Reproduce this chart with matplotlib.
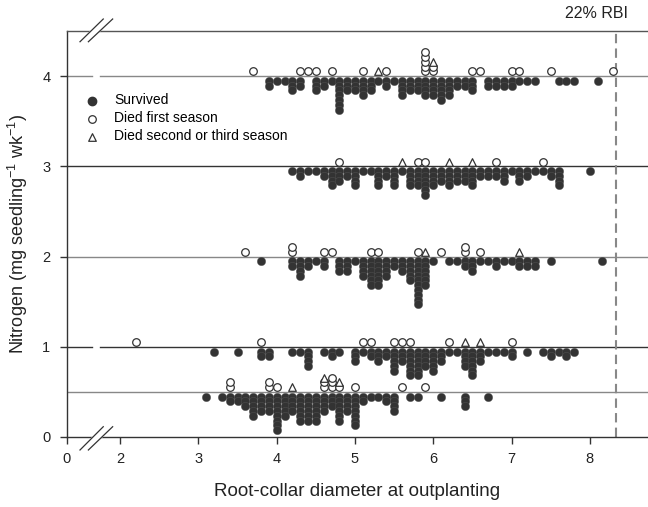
import numpy as np
import matplotlib.pyplot as plt

plt.rcParams['font.family'] = ['Liberation Sans', 'DejaVu Sans']
plt.rcParams['mathtext.fontset'] = 'custom'
plt.rcParams['mathtext.rm'] = 'Liberation Sans'
plt.rcParams['mathtext.default'] = 'regular'

levels = [0.5, 1, 2, 3, 4]

# survived seedlings: diameter bin and number of seedlings in it
surv05_d = [3.1, 3.3, 3.4, 3.5, 3.6, 3.7, 3.8, 3.9, 4.0, 4.1, 4.2, 4.3, 4.4, 4.5, 4.6, 4.7,
            4.8, 4.9, 5.0, 5.1, 5.2, 5.3, 5.4, 5.5, 5.7, 5.8, 6.1, 6.4, 6.7]
surv05_n = [1, 1, 2, 2, 3, 5, 4, 4, 8, 5, 4, 6, 6, 6, 4, 3,
            6, 4, 7, 2, 1, 1, 2, 4, 1, 1, 1, 3, 1]

surv1_d = [3.2, 3.5, 3.8, 3.9, 4.2, 4.3, 4.4, 4.6, 4.7, 4.8, 5.0, 5.1, 5.2, 5.3, 5.4, 5.5,
           5.6, 5.7, 5.8, 5.9, 6.0, 6.1, 6.2, 6.3, 6.4, 6.5, 6.6, 6.7, 6.8, 6.9, 7.0, 7.2,
           7.4, 7.5, 7.6, 7.7, 7.8]
surv1_n = [1, 1, 2, 2, 1, 1, 4, 1, 2, 1, 3, 1, 2, 3, 2, 5,
           3, 6, 6, 4, 5, 3, 1, 1, 4, 6, 3, 1, 1, 1, 2, 1,
           1, 2, 1, 2, 1]

surv2_d = [3.8, 4.2, 4.3, 4.4, 4.5, 4.6, 4.8, 4.9, 5.0, 5.1, 5.2, 5.3, 5.4, 5.5, 5.6, 5.7,
           5.8, 5.9, 6.0, 6.2, 6.3, 6.4, 6.5, 6.6, 6.7, 6.8, 6.9, 7.0, 7.1, 7.2, 7.3, 7.5, 8.15]
surv2_n = [1, 2, 4, 2, 1, 2, 3, 3, 1, 4, 6, 6, 4, 2, 3, 5,
           10, 6, 1, 1, 1, 2, 3, 1, 1, 2, 1, 1, 2, 2, 2, 1, 1]

surv3_d = [4.2, 4.3, 4.4, 4.5, 4.6, 4.7, 4.8, 4.9, 5.0, 5.1, 5.2, 5.3, 5.4, 5.5, 5.6, 5.7,
           5.8, 5.9, 6.0, 6.1, 6.2, 6.3, 6.4, 6.5, 6.6, 6.7, 6.8, 6.9, 7.0, 7.1, 7.2, 7.3,
           7.4, 7.5, 7.6, 8.0]
surv3_n = [1, 2, 1, 1, 2, 4, 3, 2, 4, 1, 1, 4, 2, 4, 1, 4,
           4, 6, 4, 3, 4, 3, 3, 4, 2, 2, 2, 3, 1, 3, 2, 1,
           1, 2, 4, 1]

surv4_d = [3.9, 4.0, 4.1, 4.2, 4.3, 4.5, 4.6, 4.7, 4.8, 4.9, 5.0, 5.1, 5.2, 5.3, 5.4, 5.5,
           5.6, 5.7, 5.8, 5.9, 6.0, 6.1, 6.2, 6.3, 6.4, 6.5, 6.7, 6.8, 6.9, 7.0, 7.1, 7.2,
           7.3, 7.6, 7.7, 7.8, 8.1]
surv4_n = [2, 1, 1, 3, 2, 3, 2, 1, 7, 3, 3, 4, 3, 1, 2, 1,
           4, 3, 3, 4, 4, 5, 4, 2, 2, 3, 2, 2, 2, 2, 1, 1,
           1, 1, 1, 1, 1]

# died first season (one entry per seedling)
died1_05 = [3.4, 3.4, 3.9, 3.9, 4.0, 4.6, 4.6, 4.7, 4.7, 4.7, 4.8, 5.0, 5.6, 5.9]
died1_1 = [2.2, 3.8, 5.1, 5.2, 5.5, 5.6, 5.7, 6.2, 7.0]
died1_2 = [3.6, 4.2, 4.2, 4.6, 4.7, 5.2, 5.3, 5.8, 6.1, 6.4, 6.4, 6.6]
died1_3 = [4.8, 5.8, 5.9, 6.8, 7.4]
died1_4 = [3.7, 4.3, 4.4, 4.5, 4.7, 5.1, 5.4, 5.9, 5.9, 5.9, 5.9, 5.9, 6.0, 6.0,
           6.5, 6.6, 7.0, 7.1, 7.5, 8.3]

# died second or third season
died2_05 = [4.2, 4.6, 4.8]
died2_1 = [6.4, 6.6]
died2_2 = [5.9, 7.1]
died2_3 = [5.6, 6.2, 6.5]
died2_4 = [5.3, 6.0]

rbi = 8.33

surv_d = [surv05_d, surv1_d, surv2_d, surv3_d, surv4_d]
surv_n = [surv05_n, surv1_n, surv2_n, surv3_n, surv4_n]
died1 = [died1_05, died1_1, died1_2, died1_3, died1_4]
died2 = [died2_05, died2_1, died2_2, died2_3, died2_4]

dark = '#333333'
dy = 0.053

fig = plt.figure(figsize=(6.48, 5.07), dpi=100)
ax = fig.add_axes([67/648, 70/507, 581/648, 406/507])
x0, x1 = 1.322, 8.742
ax.set_xlim(x0, x1)
ax.set_ylim(0, 4.5)

for i, lev in enumerate(levels):
    # reference line, broken at the axis break for some levels
    lc = '#888888' if lev in (0.5, 2, 4) else '#333333'
    if lev in (1, 4):
        ax.plot([x0, 1.641], [lev, lev], color=lc, lw=1, zorder=1)
        ax.plot([1.743, x1], [lev, lev], color=lc, lw=1, zorder=1)
    else:
        ax.plot([x0, x1], [lev, lev], color=lc, lw=1, zorder=1)

    xs, ys = [], []
    for d, n in zip(surv_d[i], surv_n[i]):
        for k in range(n):
            xs.append(d)
            ys.append(lev - (k + 1) * dy)
    ax.scatter(xs, ys, s=36, color=dark, edgecolors='#555555', linewidths=0.3, zorder=3)

    heights = {}
    cx, cy = [], []
    for d in died1[i]:
        heights[d] = heights.get(d, 0) + 1
        cx.append(d)
        cy.append(lev + heights[d] * dy)
    ax.scatter(cx, cy, s=30, facecolors='white', edgecolors=dark, linewidths=0.9, zorder=4)
    tx, ty = [], []
    for d in died2[i]:
        heights[d] = heights.get(d, 0) + 1
        tx.append(d)
        ty.append(lev + heights[d] * dy)
    ax.scatter(tx, ty, s=30, marker='^', facecolors='white', edgecolors=dark,
               linewidths=0.9, zorder=4)

# 22% RBI line
ax.plot([rbi, rbi], [0, 4.5], color='#888888', lw=1.5, dashes=(4.5, 2.5), zorder=2)
ax.text(8.09, 4.69, '22% RBI', ha='center', va='center', fontsize=11.5, color='#222222')

# legend
h1 = ax.scatter([], [], s=36, color=dark)
h2 = ax.scatter([], [], s=30, facecolors='white', edgecolors=dark, linewidths=0.9)
h3 = ax.scatter([], [], s=30, marker='^', facecolors='white', edgecolors=dark, linewidths=0.9)
ax.legend([h1, h2, h3], ['Survived', 'Died first season', 'Died second or third season'],
          loc='upper left', bbox_to_anchor=(0.01, 0.86), frameon=False, fontsize=10,
          handletextpad=0.6, labelspacing=0.28, borderaxespad=0)

# spines and ticks
ax.spines['right'].set_visible(False)
for s in ['left', 'bottom', 'top']:
    ax.spines[s].set_color('#333333')
    ax.spines[s].set_linewidth(1)
ax.spines['top'].set_color('#555555')

ax.set_xticks([x0, 2, 3, 4, 5, 6, 7, 8])
ax.set_xticklabels(['0', '2', '3', '4', '5', '6', '7', '8'])
ax.set_yticks([0, 1, 2, 3, 4])
ax.tick_params(direction='out', length=5, width=1, color='#333333', labelsize=10.5,
               labelcolor='#222222', pad=6)
ax.tick_params(axis='y', pad=7)

# axis break marks
for yb, yt in [(-0.144, 0.114), (4.381, 4.633)]:
    ax.fill([1.488, 1.785, 1.905, 1.595], [yb, yt, yt, yb], color='white', zorder=5, clip_on=False)
    ax.plot([1.488, 1.785], [yb, yt], color='#333333', lw=0.9, zorder=6, clip_on=False)
    ax.plot([1.595, 1.905], [yb, yt], color='#333333', lw=0.9, zorder=6, clip_on=False)

ax.set_xlabel('Root-collar diameter at outplanting', fontsize=13.5, labelpad=12, color='#222222')
ax.set_ylabel('Nitrogen (mg seedling$^{-1}$ wk$^{-1}$)', fontsize=13, labelpad=9, color='#222222')

fig.savefig('out.png', dpi=100)
